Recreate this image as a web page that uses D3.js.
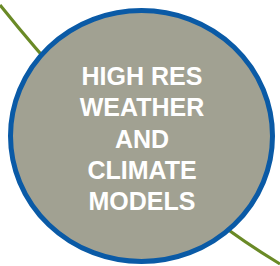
<!DOCTYPE html>
<html>
<head>
<meta charset="utf-8">
<script src="https://cdn.jsdelivr.net/npm/d3@7"></script>
<style>
html,body{margin:0;padding:0;background:#fff;}
svg{display:block;}
</style>
</head>
<body>
<script>
// Data
const labelLines = ["HIGH RES", "WEATHER", "AND", "CLIMATE", "MODELS"];
const curveX = [0, 140, 280];      // quadratic curve: start, control, end (domain units)
const curveY = [5, 180, 264];
const bubbleCenter = [141.5, 136];
const bubbleRadii = [131, 125.5];

const W = 280, H = 266;
const x = d3.scaleLinear().domain([0, 280]).range([0, W]);
const y = d3.scaleLinear().domain([0, 266]).range([0, H]);

const svg = d3.select("body").append("svg").attr("width", W).attr("height", H);

// green connector curve
const p = d3.path();
p.moveTo(x(curveX[0]), y(curveY[0]));
p.quadraticCurveTo(x(curveX[1]), y(curveY[1]), x(curveX[2]), y(curveY[2]));
svg.append("path").attr("d", p.toString())
  .attr("fill", "none").attr("stroke", "#6a8a26").attr("stroke-width", 3.2);

// bubble
svg.append("ellipse")
  .attr("cx", x(bubbleCenter[0])).attr("cy", y(bubbleCenter[1]))
  .attr("rx", x(bubbleRadii[0]) - x(0)).attr("ry", y(bubbleRadii[1]) - y(0))
  .attr("fill", "#a1a192").attr("stroke", "#0a5aa6").attr("stroke-width", 5);

// label
const lineY = d3.scaleLinear().domain([0, labelLines.length - 1]).range([85, 210]);
svg.append("g").selectAll("text").data(labelLines).join("text")
  .attr("x", 142).attr("y", (d, i) => lineY(i))
  .attr("text-anchor", "middle")
  .attr("font-family", "Liberation Sans, Arial, sans-serif")
  .attr("font-weight", "bold").attr("font-size", 25)
  .attr("fill", "#ffffff")
  .text(d => d);
</script>
</body>
</html>
